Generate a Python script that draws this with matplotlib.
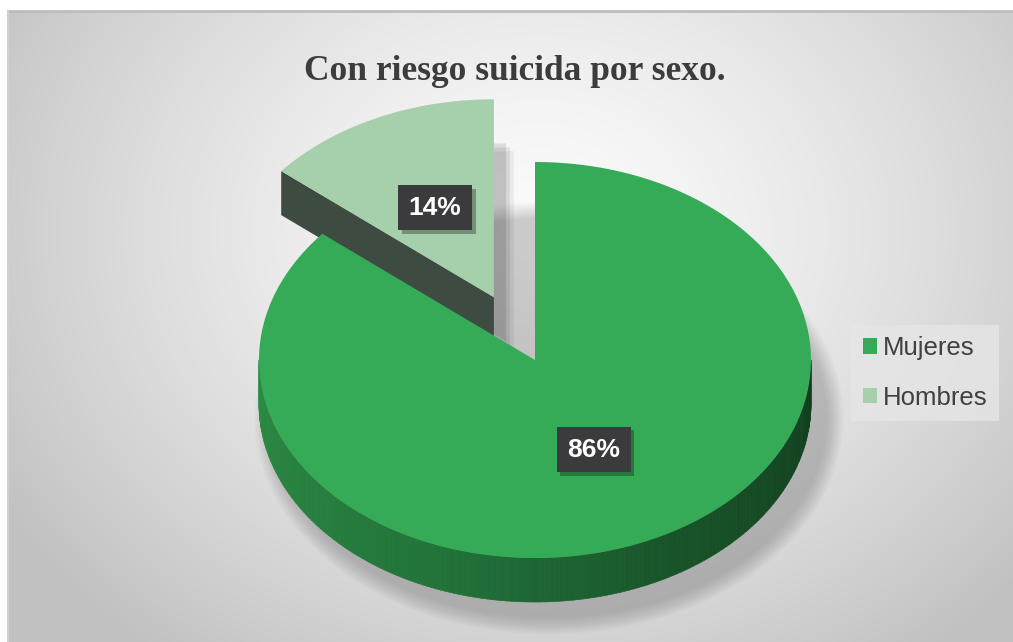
"""
Con riesgo suicida por sexo - pie chart with a 3D look
"""

import numpy as np
import matplotlib.pyplot as plt
import matplotlib.patheffects as pe
from matplotlib.patches import Polygon, Patch, Ellipse
from matplotlib.collections import PolyCollection
from matplotlib.colors import to_rgb

# data
labels = ['Mujeres', 'Hombres']
values = [86, 14]
pct_labels = ['86%', '14%']
colors = ['#36ab57', '#a6cfab']
explode = [0.0, 0.35]
title = 'Con riesgo suicida por sexo.'

W, H = 1013, 642
fig = plt.figure(figsize=(W / 100, H / 100), dpi=100)
ax = fig.add_axes([0, 0, 1, 1])
ax.set_xlim(0, W)
ax.set_ylim(H, 0)
ax.axis('off')

# background: radial grey gradient
yy, xx = np.mgrid[0:H, 0:W]
d = np.sqrt(((xx - 540) / 620.0) ** 2 + ((yy - 230) / 520.0) ** 2)
g = np.clip(0.985 - 0.22 * d ** 1.4, 0.76, 1)
bg = np.dstack([g, g, g])
ax.imshow(bg[11:, 8:], extent=[8, W, H, 11], aspect='auto', zorder=0)
ax.plot([8, W], [11, 11], color='#bdbdbd', lw=2, zorder=1)
ax.plot([8, 8], [11, H], color='#d0d0d0', lw=1.5, zorder=1)

# pie geometry (ellipse in pixels)
CX, CY = 535, 360
RX, RY = 276, 198
DEPTH = 44


def pt(theta, cx, cy, r=1.0):
    t = np.radians(theta)
    return cx + RX * r * np.cos(t), cy - RY * r * np.sin(t)


# wedge angles, clockwise from 12 o'clock
fracs = np.array(values) / sum(values) * 360
starts = 90 - np.concatenate([[0], np.cumsum(fracs)[:-1]])
ends = starts - fracs
mids = (starts + ends) / 2

centers = []
for m, e in zip(mids, explode):
    ox, oy = pt(m, 0, 0, e)
    centers.append((CX + ox, CY + oy))

# soft drop shadow of the whole pie
for k in range(12):
    grow = 4 + k * 3
    ax.add_patch(Ellipse((CX + 14, CY + DEPTH + 14), 2 * RX + grow, 2 * RY + grow,
                         color='black', alpha=0.016, lw=0, zorder=2))

# shadow cast by the exploded slice into the gap
hx, hy = centers[1]
th = np.linspace(ends[1], starts[1], 40)
for k, a in [(0, 0.10), (4, 0.08), (8, 0.06)]:
    sx, sy = pt(th, hx + 12 + k, hy + DEPTH + k)
    ax.add_patch(Polygon(np.column_stack([np.r_[hx + 12 + k, sx], np.r_[hy + DEPTH + k, sy]]),
                         color='black', alpha=a, lw=0, zorder=3))

# Hombres: dark radial face (at its left edge) then top face
ex, ey = pt(starts[1], hx, hy)
face = [(hx, hy), (ex, ey), (ex, ey + DEPTH), (hx, hy + DEPTH)]
ax.add_patch(Polygon(face, color='#3e4b41', lw=0, zorder=4))
th = np.linspace(ends[1], starts[1], 60)
tx, ty = pt(th, hx, hy)
ax.add_patch(Polygon(np.column_stack([np.r_[hx, tx], np.r_[hy, ty]]),
                     color=colors[1], lw=0, zorder=5))

# Mujeres: outer wall (front half only), shaded by angle
mx, my = centers[0]
lo, hi = ends[0] + 360, starts[0] + 360  # 140.4 .. 450
a0, a1 = max(lo, 180), min(hi, 360)
stops = [(180, '#2b8c43'), (250, '#22733a'), (300, '#185429'), (360, '#113d1d')]
sa = np.array([s[0] for s in stops])
sc = np.array([to_rgb(s[1]) for s in stops])
ang = np.linspace(a0, a1, 181)
polys, fc = [], []
for t0, t1 in zip(ang[:-1], ang[1:]):
    x0, y0 = pt(t0, mx, my)
    x1, y1 = pt(t1, mx, my)
    polys.append([(x0, y0), (x1, y1), (x1, y1 + DEPTH), (x0, y0 + DEPTH)])
    tm = (t0 + t1) / 2
    fc.append([np.interp(tm, sa, sc[:, i]) for i in range(3)])
ax.add_collection(PolyCollection(polys, facecolors=fc, edgecolors=fc, lw=0.5, zorder=6))

th = np.linspace(lo, hi, 300)
tx, ty = pt(th, mx, my)
ax.add_patch(Polygon(np.column_stack([np.r_[mx, tx], np.r_[my, ty]]),
                     color=colors[0], lw=0, zorder=7))

# data labels (dark boxes with a small drop shadow)
for (cx, cy), m, lab in zip(centers, mids, pct_labels):
    lx, ly = pt(m, cx, cy, 0.5)
    t = ax.text(lx, ly, lab, fontsize=19, fontweight='bold', color='white',
                family='Liberation Sans', ha='center', va='center', zorder=9,
                bbox=dict(boxstyle='square,pad=0.4', fc='#3b3a3c', ec='none'))
    t.get_bbox_patch().set_path_effects(
        [pe.SimplePatchShadow(offset=(2.5, -2.5), shadow_rgbFace='black', alpha=0.3), pe.Normal()])

# legend
handles = [Patch(facecolor=c, edgecolor='none', label=l) for c, l in zip(colors, labels)]
leg = ax.legend(handles=handles, loc='center left', bbox_to_anchor=(851 / W, 1 - 373 / H),
                bbox_transform=fig.transFigure, frameon=True, fancybox=False,
                handlelength=0.55, handleheight=0.55, handletextpad=0.25,
                labelspacing=1.0, borderpad=0.45, borderaxespad=0,
                prop={'family': 'Liberation Sans', 'size': 18.5})
leg.get_frame().set_facecolor('#e6e6e6')
leg.get_frame().set_edgecolor('none')
for t in leg.get_texts():
    t.set_color('#404040')

# title
ax.text(515, 72, title, fontsize=25.5, fontweight='bold', family='Liberation Serif',
        color='#3c3c3c', ha='center', va='center', zorder=10)

plt.savefig('out.png', dpi=100, facecolor='white')
